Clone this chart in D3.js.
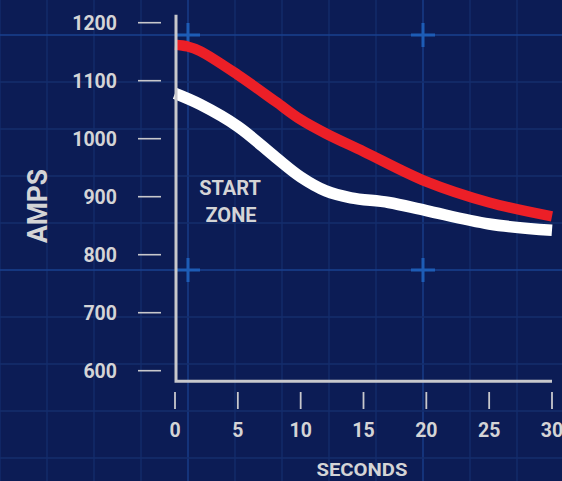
<!DOCTYPE html>
<html>
<head>
<meta charset="utf-8">
<script src="https://cdn.jsdelivr.net/npm/d3@7"></script>
<style>
  html, body { margin: 0; padding: 0; background: #0c1c55; overflow: hidden; }
  text { font-family: Roboto, "DejaVu Sans", sans-serif; font-weight: 700; fill: #d4d4d6; }
</style>
</head>
<body>
<div id="elements"></div>
<script>
'use strict';

// chart data
var redSec = [0, 1, 2, 5, 8, 10, 12, 15, 20, 25, 30];
var redAmps = [1162, 1159, 1151, 1110, 1064, 1033, 1009, 978, 926, 890, 866];
var whiteSec = [0, 2, 5, 8, 10, 12, 14, 17, 20, 25, 30];
var whiteAmps = [1078, 1059, 1021, 968, 934, 910, 898, 890, 876, 853, 842];
var xTicks = [0, 5, 10, 15, 20, 25, 30];
var yTicks = [600, 700, 800, 900, 1000, 1100, 1200];

var W = 562, H = 481;
var svg = d3.select("#elements").append("svg")
    .attr("width", W).attr("height", H);

svg.append("rect").attr("width", W).attr("height", H).attr("fill", "#0c1c55");

// blueprint grid in the background
var gridStep = 47, gx0 = 423, gy0 = 35;
var grid = svg.append("g");
var vx = d3.range(-9, 4).map(function(k) { return gx0 + k * gridStep; }).filter(function(v) { return v >= 0 && v <= W; });
var hy = d3.range(0, 10).map(function(k) { return gy0 + k * gridStep; }).filter(function(v) { return v <= H; });

grid.selectAll("line.v").data(vx).enter().append("line")
    .attr("x1", function(d) { return d; }).attr("x2", function(d) { return d; })
    .attr("y1", 0).attr("y2", H)
    .attr("stroke", function(d) { return (d - gx0) % (gridStep * 5) === 0 ? "#19418f" : "#142e6c"; })
    .attr("stroke-width", 1.3);
grid.selectAll("line.h").data(hy).enter().append("line")
    .attr("y1", function(d) { return d; }).attr("y2", function(d) { return d; })
    .attr("x1", 0).attr("x2", W)
    .attr("stroke", function(d) { return (d - gy0) % (gridStep * 5) === 0 ? "#19418f" : "#142e6c"; })
    .attr("stroke-width", 1.3);

// crosses at the major intersections
var crosses = [];
[gx0 - gridStep * 5, gx0].forEach(function(cx) {
    [gy0, gy0 + gridStep * 5].forEach(function(cy) { crosses.push([cx, cy]); });
});
var cr = grid.selectAll("g.cross").data(crosses).enter().append("g")
    .attr("transform", function(d) { return "translate(" + d[0] + "," + d[1] + ")"; });
cr.append("line").attr("x1", -12).attr("x2", 12).attr("y1", 0).attr("y2", 0);
cr.append("line").attr("y1", -12).attr("y2", 12).attr("x1", 0).attr("x2", 0);
cr.selectAll("line").attr("stroke", "#1d5cb6").attr("stroke-width", 3);

// scales
var x = d3.scaleLinear().domain([0, 30]).range([175, 552]);
var y = d3.scaleLinear().domain([600, 1200]).range([370.7, 22.7]);

// y ticks + labels
var yAxis = svg.append("g");
yAxis.selectAll("line").data(yTicks).enter().append("line")
    .attr("x1", 138).attr("x2", 161)
    .attr("y1", function(d) { return y(d); }).attr("y2", function(d) { return y(d); })
    .attr("stroke", "#c8c8cc").attr("stroke-width", 1.6);
yAxis.selectAll("text").data(yTicks).enter().append("text")
    .attr("x", 117).attr("y", function(d) { return y(d); })
    .attr("dy", "0.36em").attr("text-anchor", "end")
    .attr("font-size", 19.5)
    .text(function(d) { return d; });

// x ticks + labels
var xAxis = svg.append("g");
xAxis.selectAll("line").data(xTicks).enter().append("line")
    .attr("x1", function(d) { return x(d); }).attr("x2", function(d) { return x(d); })
    .attr("y1", 392).attr("y2", 409)
    .attr("stroke", "#c8c8cc").attr("stroke-width", 1.8);
xAxis.selectAll("text").data(xTicks).enter().append("text")
    .attr("x", function(d) { return x(d); }).attr("y", 430)
    .attr("dy", "0.36em").attr("text-anchor", "middle")
    .attr("font-size", 19.5)
    .text(function(d) { return d; });

// data lines
var line = d3.line()
    .x(function(d) { return x(d[0]); })
    .y(function(d) { return y(d[1]); })
    .curve(d3.curveCatmullRom.alpha(0.5));

svg.append("path")
    .datum(whiteSec.map(function(s, i) { return [s, whiteAmps[i]]; }))
    .attr("d", line)
    .attr("fill", "none").attr("stroke", "#ffffff").attr("stroke-width", 11.5);

svg.append("path")
    .datum(redSec.map(function(s, i) { return [s, redAmps[i]]; }))
    .attr("d", line)
    .attr("fill", "none").attr("stroke", "#ec1f27").attr("stroke-width", 10.5);

// axis frame
svg.append("path")
    .attr("d", "M" + (x(0) + 1) + "," + (y(1200) - 8) + "V" + (y(600) + 10.5) + "H" + x(30))
    .attr("fill", "none").attr("stroke", "#c8c8cc").attr("stroke-width", 3);

// titles
svg.append("text")
    .attr("transform", "translate(37,206) rotate(-90)")
    .attr("dy", "0.36em").attr("text-anchor", "middle")
    .attr("font-size", 27).attr("textLength", 74).attr("lengthAdjust", "spacingAndGlyphs")
    .text("AMPS");

svg.append("text")
    .attr("x", 362).attr("y", 469)
    .attr("dy", "0.36em").attr("text-anchor", "middle")
    .attr("font-size", 18.5).attr("textLength", 91).attr("lengthAdjust", "spacingAndGlyphs")
    .text("SECONDS");

svg.append("text")
    .attr("x", 230).attr("y", 188)
    .attr("dy", "0.36em").attr("text-anchor", "middle")
    .attr("font-size", 20)
    .text("START");
svg.append("text")
    .attr("x", 231).attr("y", 215)
    .attr("dy", "0.36em").attr("text-anchor", "middle")
    .attr("font-size", 20)
    .text("ZONE");
</script>
</body>
</html>
